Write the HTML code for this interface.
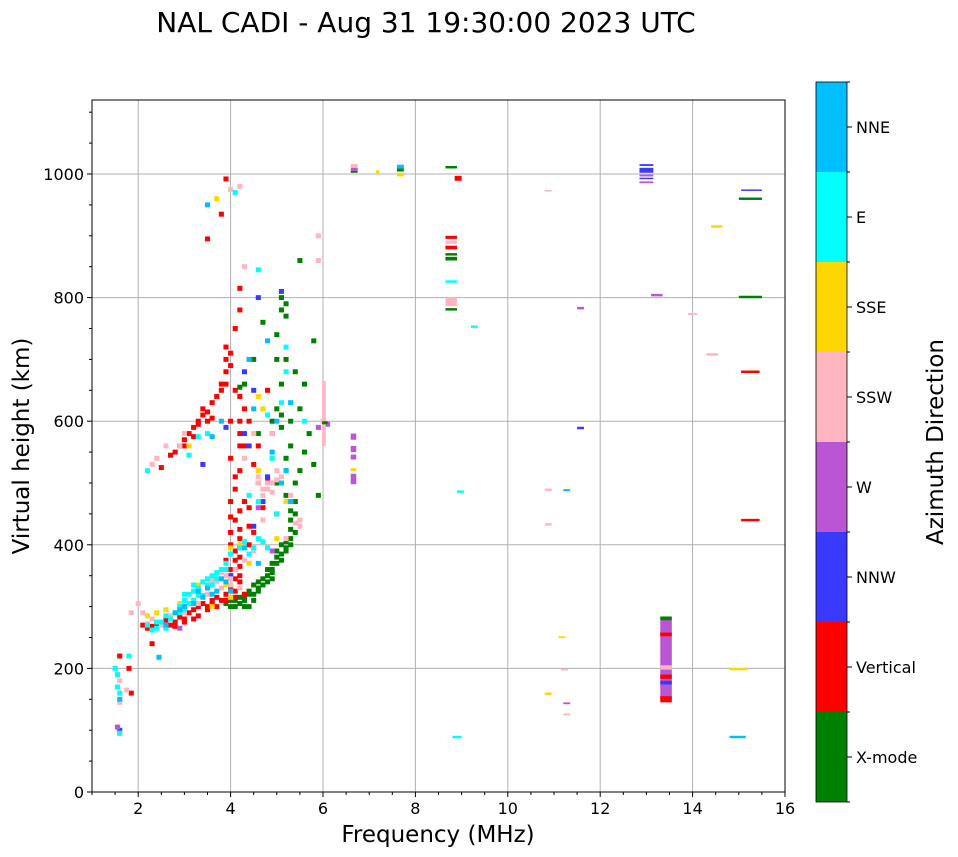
<!DOCTYPE html>
<html><head><meta charset="utf-8"><style>
html,body{margin:0;padding:0;background:#fff;}
svg{display:block;font-family:"DejaVu Sans","Liberation Sans",sans-serif;}
</style></head><body>
<svg id="chart" width="958" height="857" viewBox="0 0 958 857" xmlns="http://www.w3.org/2000/svg">
<text x="426" y="32" font-size="28" text-anchor="middle">NAL CADI - Aug 31 19:30:00 2023 UTC</text>
<g id="grid"></g>
<g id="marks"></g>
<g id="axes"></g>
<text x="438" y="842" font-size="23" text-anchor="middle">Frequency (MHz)</text>
<text transform="translate(29,446) rotate(-90)" font-size="23" text-anchor="middle">Virtual height (km)</text>
<g id="cbar"></g>
<text transform="translate(943,442) rotate(-90)" font-size="23" text-anchor="middle">Azimuth Direction</text>
</svg>
<script>
const dirNames = ["X-mode","Vertical","NNW","W","SSW","SSE","E","NNE"];
const dirColors = ["#008000","#ff0000","#3a3aff","#ba55d3","#ffb6c1","#ffd700","#00ffff","#00bfff"];
const xTicks = [2,4,6,8,10,12,14,16];
const yTicks = [0,200,400,600,800,1000];

const xmode = [[3.9,305],[4.0,310],[4.1,310],[4.2,315],[4.3,318],[4.4,325],[4.5,335],[4.6,340],[4.7,345],[4.8,350],[4.9,360],[5.0,370],[5.1,385],[5.2,395],[5.3,410],[5.1,400],[4.8,360],[4.6,330],[4.4,320],[5.3,440],[5.4,470],[5.2,480],[5.0,500],[5.2,520],[5.3,560],[5.1,590],[5.0,620],[5.1,660],[5.2,700],[5.4,680],[5.0,740],[5.1,780],[5.1,800],[5.2,770],[5.5,860],[4.7,760],[4.5,700],[4.9,600],[4.3,660],[5.8,530],[5.9,480],[5.7,580],[5.5,620],[5.0,450],[5.4,500],[4.6,580],[5.6,660],[5.8,730],[4.2,655],[4.0,300],[4.2,305],[4.3,310],[5.0,380],[5.2,405],[4.9,345],[4.5,320],[5.3,425],[5.4,450],[4.3,300],[4.5,310],[4.7,335],[4.9,355],[5.1,375],[5.2,390],[5.3,400],[4.8,340],[4.6,325],[5.4,420],[5.3,455],[5.5,520],[5.2,540],[5.1,610],[5.3,600],[5.0,700],[5.2,790],[5.6,550],[4.4,300],[4.1,300],[5.0,390],[4.9,370]];
const vertical = [[2.1,270],[2.2,265],[2.3,268],[2.5,272],[2.6,278],[2.7,270],[2.8,275],[2.9,283],[3.0,280],[3.1,290],[3.2,295],[3.3,300],[3.4,305],[3.5,300],[3.6,310],[3.7,315],[3.8,310],[3.9,320],[4.0,330],[4.1,325],[4.2,340],[4.2,350],[4.3,320],[4.1,360],[4.2,380],[4.1,390],[4.0,400],[4.2,410],[4.0,420],[4.1,440],[4.2,455],[4.0,470],[4.1,490],[4.2,520],[4.0,540],[4.2,560],[4.2,580],[4.0,600],[4.3,620],[4.1,650],[4.2,640],[1.6,220],[1.8,200],[1.85,160],[2.3,240],[2.5,525],[2.7,545],[2.8,550],[2.9,560],[3.0,570],[3.1,580],[3.2,590],[3.3,600],[3.4,610],[3.5,615],[3.6,630],[3.7,640],[3.8,660],[3.9,680],[3.9,700],[3.9,720],[4.0,710],[4.1,750],[4.2,780],[3.5,895],[3.8,935],[3.9,992],[4.4,460],[4.3,470],[4.6,500],[4.7,460],[4.5,530],[4.6,560],[4.8,505],[4.9,580],[4.4,430],[4.8,650],[4.2,815],[3.4,620],[3.3,595],[4.0,360],[3.9,375],[4.1,345],[4.2,395],[3.6,305],[3.2,280],[2.4,270],[2.8,268],[3.0,275],[3.3,285],[3.5,295],[3.7,300],[3.9,310],[4.1,315],[4.0,350],[4.2,365],[4.1,375],[4.2,425],[4.0,445],[4.1,510],[4.2,600],[4.0,690],[3.9,660],[3.8,650],[3.6,605],[3.5,600],[3.0,560],[3.2,575],[4.4,400],[4.5,420],[4.4,600],[4.3,560]];
const nnw = [[4.5,650],[4.6,800],[4.0,350],[3.9,590],[4.4,560],[4.8,510],[4.7,470],[4.3,680],[1.6,100],[5.1,810],[3.4,530],[4.5,430],[4.3,580]];
const west = [[2.9,265],[4.6,460],[5.9,590],[6.1,595],[4.9,390],[1.55,105]];
const ssw = [[2.0,305],[2.1,290],[2.3,280],[2.5,270],[2.7,285],[3.0,290],[3.3,305],[3.5,320],[3.7,340],[3.9,350],[4.1,360],[4.3,375],[4.5,390],[4.6,500],[4.7,490],[4.8,490],[4.9,500],[5.0,520],[5.1,510],[4.5,580],[4.9,580],[5.4,435],[5.5,430],[4.3,850],[4.0,975],[4.2,980],[5.9,900],[5.9,860],[6.0,600],[2.3,530],[2.4,540],[2.6,560],[3.0,580],[1.6,180],[1.85,290],[2.9,560],[4.3,540],[5.2,410],[4.7,440],[5.3,480],[3.8,330],[3.6,345],[4.0,335],[4.2,330],[4.7,480],[4.8,500],[4.9,485],[5.0,505],[4.6,510],[5.5,440],[5.3,470],[3.6,340],[3.8,355],[4.0,345],[2.2,272],[1.6,145],[1.75,165]];
const sse = [[2.4,290],[2.6,295],[2.9,305],[3.3,335],[3.4,340],[2.2,285],[4.0,395],[4.2,400],[4.6,520],[4.4,370],[3.1,560],[4.7,620],[5.0,410],[5.2,470],[4.9,540],[1.6,95],[3.7,960],[4.6,640],[3.9,335],[3.6,300],[4.0,315]];
const east = [[2.2,270],[2.3,262],[2.4,265],[2.5,275],[2.6,285],[2.8,290],[2.9,300],[3.0,310],[3.1,320],[3.2,325],[3.3,330],[3.4,340],[3.5,345],[3.6,350],[3.7,355],[3.8,360],[3.9,370],[2.7,280],[3.0,295],[3.2,310],[3.4,318],[4.0,385],[4.2,395],[4.5,395],[4.7,405],[1.6,95],[1.8,220],[1.55,170],[1.5,200],[3.1,545],[3.3,575],[3.5,580],[4.4,480],[4.6,470],[5.0,450],[4.8,610],[5.2,720],[4.1,970],[4.6,845],[5.6,600],[5.2,680],[2.2,520],[4.9,540],[5.1,630],[3.3,318],[3.6,335],[2.9,290],[3.1,305],[3.0,320],[3.2,335],[3.5,335],[2.6,265],[2.4,275],[3.7,345],[3.9,360],[4.3,405],[4.6,410],[4.8,395],[4.4,385],[1.6,160],[1.55,190]];
const nne = [[3.0,300],[3.2,305],[3.4,315],[3.5,330],[3.7,325],[3.8,345],[3.9,340],[2.6,270],[2.8,290],[3.6,575],[3.8,600],[3.5,950],[4.8,730],[4.4,700],[4.9,550],[5.0,600],[5.2,520],[5.3,630],[4.5,620],[5.1,500],[1.6,150],[2.45,218],[4.3,395],[4.6,370],[5.3,470],[3.3,325],[3.6,320],[2.9,295],[4.0,325]];
const seriesPoints = [xmode, vertical, nnw, west, ssw, sse, east, nne];

// isolated echo blocks: [direction index, f0, f1, h0, h1]
const blocks = [
 [3,13.3,13.55,150,280],[1,13.3,13.55,145,155],[1,13.3,13.55,183,190],[1,13.3,13.55,252,258],[0,13.3,13.55,278,284],[2,13.3,13.55,174,180],[4,13.3,13.55,198,205],
 [2,12.85,13.15,1013,1016],[2,12.85,13.15,1002,1010],[3,12.85,13.15,996,999],[2,12.85,13.15,992,994],[3,12.85,13.15,985,988],[3,13.1,13.35,802,806],
 [4,13.9,14.1,772,775],[4,14.3,14.55,706,710],[5,14.4,14.65,913,917],[5,14.8,15.2,197,201],[7,14.8,15.15,87,91],
 [0,15.0,15.5,958,962],[0,15.0,15.5,799,803],[1,15.05,15.45,678,682],[1,15.05,15.45,438,442],[2,15.05,15.5,973,975],
 [3,11.5,11.65,781,785],[2,11.5,11.65,587,591],[3,11.2,11.35,142,145],[7,11.2,11.35,487,490],[4,11.2,11.35,124,127],[5,11.1,11.25,249,252],[4,11.15,11.3,197,199],
 [4,10.8,10.95,972,974],[4,10.8,10.95,487,491],[4,10.8,10.95,431,435],[5,10.8,10.95,157,161],
 [6,9.2,9.35,751,755],[6,8.9,9.05,484,488],[6,8.8,9.0,87,91],
 [0,8.65,8.9,1009,1013],[1,8.85,9.0,989,997],[1,8.65,8.9,895,900],[4,8.65,8.9,887,892],[1,8.65,8.9,878,884],[0,8.65,8.9,860,866],[0,8.65,8.9,868,872],[6,8.65,8.9,824,828],[4,8.65,8.9,786,800],[0,8.65,8.9,779,783],
 [5,7.6,7.75,996,1002],[0,7.6,7.75,1004,1009],[7,7.6,7.75,1009,1015],[5,7.15,7.22,1000,1006],
 [4,6.6,6.75,1010,1016],[3,6.6,6.75,1005,1010],[0,6.6,6.75,1002,1005],
 [3,6.6,6.72,570,580],[3,6.6,6.72,550,560],[3,6.6,6.72,538,546],[3,6.6,6.72,498,515],[5,6.6,6.72,519,524],
 [4,5.98,6.06,560,665],[0,5.98,6.1,595,600]
];

const X0=92,X1=785,Y0=792,Y1=100,FMIN=1,FMAX=16,HMAX=(792-100)/0.618;
const sx=f=>X0+(f-FMIN)/(FMAX-FMIN)*(X1-X0);
const sy=h=>Y0-h/HMAX*(Y0-Y1);
const NS="http://www.w3.org/2000/svg";
function mk(parent,tag,attrs){const e=document.createElementNS(NS,tag);for(const k in attrs)e.setAttribute(k,attrs[k]);parent.appendChild(e);return e;}
const grid=document.getElementById('grid'),marks=document.getElementById('marks'),axes=document.getElementById('axes'),cbar=document.getElementById('cbar');

xTicks.forEach(t=>{const l=mk(grid,'line',{x1:sx(t),x2:sx(t),y1:Y1,y2:Y0,stroke:'#b0b0b0','stroke-width':1});

});
yTicks.forEach(t=>{const l=mk(grid,'line',{x1:X0,x2:X1,y1:sy(t),y2:sy(t),stroke:'#b0b0b0','stroke-width':1});

});

const cw=0.11, ch=8;
seriesPoints.forEach((pts,di)=>{pts.forEach(p=>{
 const r=mk(marks,'rect',{x:sx(p[0]-cw/2),y:sy(p[1]+ch/2),width:sx(p[0]+cw/2)-sx(p[0]-cw/2),height:sy(0)-sy(ch),fill:dirColors[di]});
 
 
});});
blocks.forEach(b=>{
 const r=mk(marks,'rect',{x:sx(b[1]),y:sy(b[4]),width:sx(b[2])-sx(b[1]),height:Math.max(1.5,sy(b[3])-sy(b[4])),fill:dirColors[b[0]]});
 
 
});

mk(axes,'rect',{x:X0,y:Y1,width:X1-X0,height:Y0-Y1,fill:'none',stroke:'#000','stroke-width':1});
for(let f=1;f<=16;f+=0.5){const major=xTicks.includes(f);mk(axes,'line',{x1:sx(f),x2:sx(f),y1:Y0,y2:Y0+(major?5:3),stroke:'#000'});}
xTicks.forEach(t=>{const tx=mk(axes,'text',{x:sx(t),y:Y0+22,'font-size':16,'text-anchor':'middle'});tx.textContent=t;

});
for(let h=0;h<=1100;h+=50){const major=yTicks.includes(h);mk(axes,'line',{x1:X0,x2:X0-(major?5:3),y1:sy(h),y2:sy(h),stroke:'#000'});}
yTicks.forEach(t=>{const tx=mk(axes,'text',{x:X0-8,y:sy(t)+6,'font-size':16,'text-anchor':'end'});tx.textContent=t;

});

const CB_X=816,CB_W=31,CB_TOP=82,CB_BOT=802,seg=(CB_BOT-CB_TOP)/dirNames.length;
dirNames.forEach((n,i)=>{
 const y=CB_BOT-(i+1)*seg;
 const r=mk(cbar,'rect',{x:CB_X,y:y,width:CB_W,height:seg,fill:dirColors[i]});
 
 
 mk(cbar,'line',{x1:CB_X+CB_W,x2:CB_X+CB_W+5,y1:y+seg/2,y2:y+seg/2,stroke:'#000'});
 mk(cbar,'line',{x1:CB_X+CB_W,x2:CB_X+CB_W+3,y1:y,y2:y,stroke:'#000'});
 const t=mk(cbar,'text',{x:CB_X+CB_W+9,y:y+seg/2+6,'font-size':16});t.textContent=n;
 
 
});
mk(cbar,'line',{x1:CB_X+CB_W,x2:CB_X+CB_W+3,y1:CB_BOT,y2:CB_BOT,stroke:'#000'});
mk(cbar,'rect',{x:CB_X,y:CB_TOP,width:CB_W,height:CB_BOT-CB_TOP,fill:'none',stroke:'#000','stroke-width':0.8});
</script>
</body></html>
